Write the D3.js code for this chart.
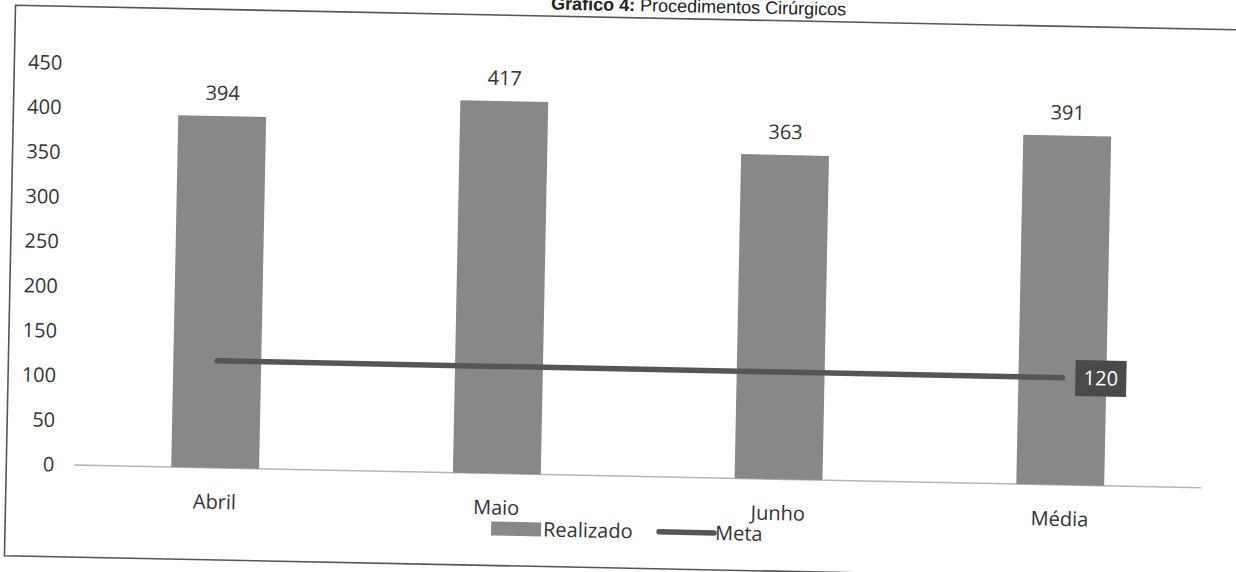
<!DOCTYPE html>
<html>
<head>
<meta charset="utf-8">
<script src="https://cdn.jsdelivr.net/npm/d3@7"></script>
<style>
  html, body { margin: 0; padding: 0; background: #fff; }
  svg { display: block; }
  text { font-family: "Open Sans", Lato, sans-serif; fill: #333; }
</style>
</head>
<body>
<svg id="chart" width="1236" height="572"></svg>
<script>
const title = "Procedimentos Cirúrgicos";
const titlePrefix = "Gráfico 4:";
const categories = ["Abril", "Maio", "Junho", "Média"];
const realizado = [394, 417, 363, 391];
const meta = [120, 120, 120, 120];
const yTicks = [0, 50, 100, 150, 200, 250, 300, 350, 400, 450];
const seriesNames = ["Realizado", "Meta"];

const FS = "20px";
const svg = d3.select("#chart");
svg.append("rect").attr("width", 1236).attr("height", 572).attr("fill", "#fff");

// scanned page is slightly rotated
const g = svg.append("g").attr("transform", "rotate(1.15, 620, 286)");

// outer frame
g.append("path")
  .attr("d", "M1300,17.5 L10,17.5 L10,568 L1300,568")
  .attr("fill", "none").attr("stroke", "#555").attr("stroke-width", 1.6);

// title
const t = g.append("text").attr("x", 693).attr("y", 11).attr("text-anchor", "middle")
  .style("font-family", "'Liberation Sans', Arial, sans-serif").style("font-size", "18px").style("fill", "#222");
t.append("tspan").style("font-weight", "bold").text(titlePrefix + " ");
t.append("tspan").text(title);

const x = d3.scaleBand().domain(categories).range([78, 1205]).paddingInner(0.688).paddingOuter(0.344);
const y = d3.scaleLinear().domain([0, 450]).range([476, 74]);

// baseline
g.append("line").attr("x1", 78).attr("x2", 1205).attr("y1", y(0)).attr("y2", y(0))
  .attr("stroke", "#b5b5b5").attr("stroke-width", 1.5);

// y axis labels
const yAxis = d3.axisLeft(y).tickValues(yTicks).tickSize(0).tickPadding(0).tickFormat(d3.format("d"));
const ya = g.append("g").attr("transform", "translate(58,0)").call(yAxis);
ya.select(".domain").remove();
ya.selectAll("text").style("font-size", FS).style("fill", "#333").style("font-family", "'Open Sans', sans-serif");

// bars
g.selectAll("rect.bar").data(realizado).join("rect").attr("class", "bar")
  .attr("x", (d, i) => x(categories[i]))
  .attr("width", x.bandwidth())
  .attr("y", d => y(d))
  .attr("height", d => y(0) - y(d))
  .attr("fill", "#888");

// bar value labels
g.selectAll("text.val").data(realizado).join("text").attr("class", "val")
  .attr("x", (d, i) => x(categories[i]) + x.bandwidth() / 2)
  .attr("y", d => y(d) - 16)
  .attr("text-anchor", "middle")
  .style("font-size", FS)
  .text(d => d);

// category labels
g.selectAll("text.cat").data(categories).join("text").attr("class", "cat")
  .attr("x", d => x(d) + x.bandwidth() / 2)
  .attr("y", 517)
  .attr("text-anchor", "middle")
  .style("font-size", FS)
  .text(d => d);

// meta line
const line = d3.line().x((d, i) => x(categories[i]) + x.bandwidth() / 2).y(d => y(d));
g.append("path").datum(meta).attr("d", line)
  .attr("fill", "none").attr("stroke", "#555").attr("stroke-width", 5.5).attr("stroke-linecap", "round");

// meta label at last point
const li = meta.length - 1;
const lx = x(categories[li]) + x.bandwidth() / 2 + 13;
const ly = y(meta[li]);
g.append("rect").attr("x", lx).attr("y", ly - 18).attr("width", 51).attr("height", 36).attr("fill", "#4a4a4a");
g.append("text").attr("x", lx + 25.5).attr("y", ly + 7).attr("text-anchor", "middle")
  .style("font-size", FS).style("fill", "#fff").text(meta[li]);

// legend
const lg = g.append("g");
lg.append("rect").attr("x", 496).attr("y", 524).attr("width", 50).attr("height", 14).attr("fill", "#888");
lg.append("text").attr("x", 548).attr("y", 538).style("font-size", FS).text(seriesNames[0]);
lg.append("line").attr("x1", 664).attr("x2", 719).attr("y1", 531).attr("y2", 531)
  .attr("stroke", "#555").attr("stroke-width", 5.5).attr("stroke-linecap", "round");
lg.append("text").attr("x", 720).attr("y", 538).style("font-size", FS).text(seriesNames[1]);
</script>
</body>
</html>
